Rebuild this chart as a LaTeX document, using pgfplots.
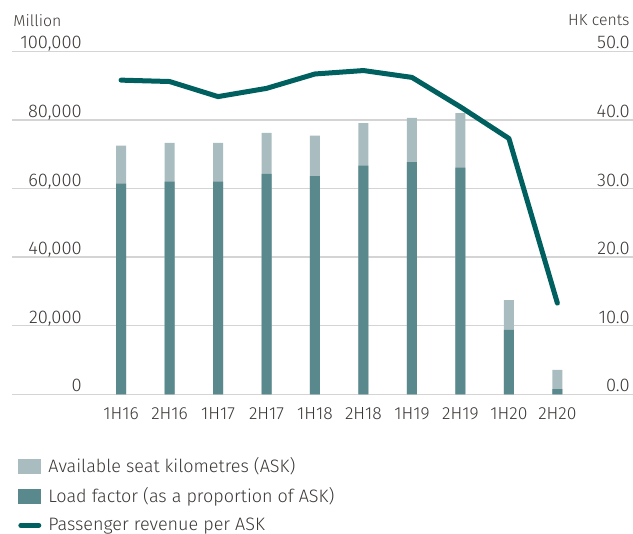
\documentclass[border=0pt]{standalone}
\usepackage{pgfplots}
\pgfplotsset{compat=1.18}
\usepackage{fontspec}
\setmainfont{Fira Sans}[UprightFont=* Light]
\definecolor{askcol}{RGB}{169,188,191}
\definecolor{lfcol}{RGB}{90,137,141}
\definecolor{revcol}{RGB}{0,96,95}
\definecolor{gridcol}{RGB}{212,212,212}
\definecolor{txtcol}{RGB}{59,55,53}

\begin{document}
\begin{tikzpicture}
% shared box: 1px = 0.6pt
\pgfplotsset{
  every axis/.append style={
    scale only axis, width=372.6pt, height=205.8pt,
    at={(0,0)}, anchor=south west,
    xmin=-2.25, xmax=10.56,
    axis line style={draw=none},
    major tick length=0pt,
    tick label style={font=\fontsize{10.5}{12}\selectfont, text=txtcol},
    /pgf/number format/assume math mode=true,
  }
}
\begin{axis}[
  ymin=0, ymax=100000,
  ytick={0,20000,40000,60000,80000,100000},
  ymajorgrids, grid style={gridcol, line width=0.9pt},
  yticklabel style={anchor=base east, inner sep=0pt, xshift=42pt, yshift=1.4pt,
    font=\fontsize{11}{12}\selectfont,
    /pgf/number format/.cd, fixed, 1000 sep={,}},
  scaled y ticks=false,
  xtick={0,1,2,3,4,5,6,7,8,9},
  xticklabels={1H16,2H16,1H17,2H17,1H18,2H18,1H19,2H19,1H20,2H20},
  xticklabel style={anchor=north, inner sep=0pt, yshift=-8pt},
  ybar, bar width=6pt,
  ylabel={Million},
  ylabel style={rotate=-90, at={(axis description cs:0.0016,1.09)}, anchor=west,
    font=\fontsize{9.5}{11}\selectfont, text=txtcol, inner sep=0pt},
  legend style={at={(axis description cs:0,0)}, anchor=north west,
    xshift=0.6pt, yshift=-35.6pt, draw=none, fill=none,
    font=\fontsize{10.8}{12}\selectfont, text=txtcol,
    row sep=7.6pt, nodes={inner sep=0pt}, cells={anchor=west}},
  legend cell align=left,
  /tikz/every odd column/.append style={column sep=4.2pt},
]
\addplot[fill=askcol, draw=none, bar shift=0pt,
  legend image code/.code={\fill[askcol] (0pt,-4.5pt) rectangle (13.8pt,4.5pt);}]
  coordinates {(0,72500)(1,73300)(2,73300)(3,76200)(4,75400)(5,79100)(6,80600)(7,82000)(8,27500)(9,7100)};
\addlegendentry{Available seat kilometres (ASK)}
\addplot[fill=lfcol, draw=none, bar shift=0pt,
  legend image code/.code={\fill[lfcol] (0pt,-4.5pt) rectangle (13.8pt,4.5pt);}]
  coordinates {(0,61400)(1,62000)(2,62000)(3,64300)(4,63600)(5,66700)(6,67700)(7,66100)(8,18800)(9,1550)};
\addlegendentry{Load factor (as a proportion of ASK)}
\addlegendimage{legend image code/.code={\draw[revcol, line width=3pt, line cap=round] (1.5pt,0pt) -- (12.3pt,0pt);}}
\addlegendentry{Passenger revenue per ASK}
\end{axis}
\begin{axis}[
  ymin=0, ymax=50,
  ytick={0,10,20,30,40,50},
  hide x axis,
  yticklabel pos=right,
  yticklabel style={anchor=base east, inner sep=0pt, xshift=-1.8pt, yshift=1.4pt,
    font=\fontsize{11}{12}\selectfont,
    /pgf/number format/.cd, fixed, fixed zerofill, precision=1},
  ylabel={HK cents},
  ylabel style={rotate=-90, at={(axis description cs:0.995,1.09)}, anchor=east,
    font=\fontsize{9.5}{11}\selectfont, text=txtcol, inner sep=0pt},
]
\addplot[revcol, line width=3pt, line join=round, line cap=round, mark=none]
  coordinates {(0,45.8)(1,45.6)(2,43.4)(3,44.6)(4,46.7)(5,47.2)(6,46.2)(7,41.9)(8,37.3)(9,13.3)};
\end{axis}
\pgfresetboundingbox
\path (-7.2pt,-83.8pt) rectangle (372.6pt,236.6pt);
\end{tikzpicture}
\end{document}
